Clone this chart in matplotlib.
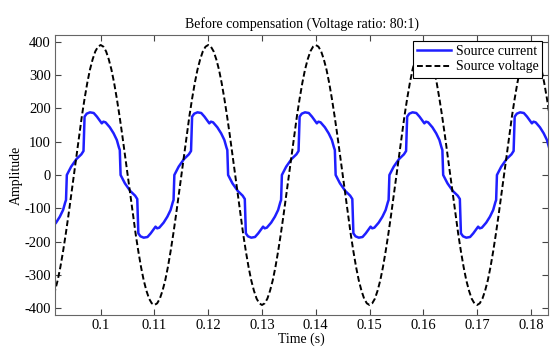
import numpy as np
import matplotlib
matplotlib.use("Agg")
import matplotlib.pyplot as plt

plt.rcParams["font.family"] = ["Liberation Serif", "DejaVu Serif"]
plt.rcParams["axes.unicode_minus"] = False

PERIOD_MS = 20.0          # 50 Hz supply
PEAK_T = 0.1              # a voltage peak, seconds

# one cycle of source current, time in ms relative to a voltage peak
cur_phase_ms = [-6.45, -6.3, -5.5, -4.5, -3.6, -3.2, -3.0, -2.6, -2.0, -1.3, -0.7, -0.1,
                0.2, 0.5, 0.9, 1.7, 2.4, 3.0, 3.4,
                3.55, 3.7, 4.5, 5.5, 6.4, 6.8, 7.0, 7.4, 8.0, 8.7, 9.3, 9.9,
                10.2, 10.5, 10.9, 11.7, 12.4, 13.0, 13.4]
cur_vals = [-75, 0, 25, 48, 62, 72, 175, 184, 188, 186, 175, 162,
            155, 160, 158, 143, 125, 105, 82,
            75, 0, -25, -48, -62, -72, -175, -184, -188, -186, -175, -162,
            -155, -160, -158, -143, -125, -105, -82]

# one cycle of source voltage (scaled 80:1), 0.5 ms steps from a peak
volt_phase_ms = [0.0, 0.5, 1.0, 1.5, 2.0, 2.5, 3.0, 3.5, 4.0, 4.5, 5.0, 5.5, 6.0, 6.5, 7.0,
                 7.5, 8.0, 8.5, 9.0, 9.5, 10.0, 10.5, 11.0, 11.5, 12.0, 12.5, 13.0, 13.5,
                 14.0, 14.5, 15.0, 15.5, 16.0, 16.5, 17.0, 17.5, 18.0, 18.5, 19.0, 19.5]
volt_vals = [390, 385, 371, 347, 316, 276, 229, 177, 121, 61, 0, -61, -121, -177, -229,
             -276, -316, -347, -371, -385, -390, -385, -371, -347, -316, -276, -229, -177,
             -121, -61, 0, 61, 121, 177, 229, 276, 316, 347, 371, 385]

cycles = [-1, 0, 1, 2, 3, 4]

x_ticks = [0.1, 0.11, 0.12, 0.13, 0.14, 0.15, 0.16, 0.17, 0.18]
x_labels = ["0.1", "0.11", "0.12", "0.13", "0.14", "0.15", "0.16", "0.17", "0.18"]
y_ticks = [-400, -300, -200, -100, 0, 100, 200, 300, 400]


def periodic(phase_ms, vals):
    # the waveforms are steady state, so repeat the read cycle
    t = np.concatenate([PEAK_T + (np.array(phase_ms) + k * PERIOD_MS) / 1000 for k in cycles])
    v = np.tile(vals, len(cycles))
    return t, v


t_i, i_s = periodic(cur_phase_ms, cur_vals)
t_v, v_s = periodic(volt_phase_ms, volt_vals)

fig = plt.figure(figsize=(5.5, 3.5), dpi=100)
ax = fig.add_axes([0.1, 0.1, 0.8964, 0.8])
ax.plot(t_i, i_s, color="#1f1fff", lw=1.8, label="Source current")
ax.plot(t_v, v_s, color="black", lw=1.4, ls=(0, (3, 1.5)), label="Source voltage")

ax.set_xlim(0.0915, 0.1832)
ax.set_ylim(-420, 420)
ax.set_xticks(x_ticks)
ax.set_xticklabels(x_labels)
ax.set_yticks(y_ticks)
ax.tick_params(direction="in", top=True, right=True, labelsize=10.5, length=4,
               color="#444", pad=3)
for s in ax.spines.values():
    s.set_color("#666")
ax.set_title("Before compensation (Voltage ratio: 80:1)", fontsize=10, pad=5)
ax.set_xlabel("Time (s)", fontsize=10, labelpad=0)
ax.set_ylabel("Amplitude", fontsize=10, labelpad=1)

leg = ax.legend(loc="upper right", fontsize=10, fancybox=False, framealpha=1,
                edgecolor="black", borderaxespad=0.4, handlelength=2.4,
                borderpad=0.3, labelspacing=0.2, handletextpad=0.35)
leg.get_frame().set_linewidth(0.8)

fig.savefig("out.png", dpi=100)
